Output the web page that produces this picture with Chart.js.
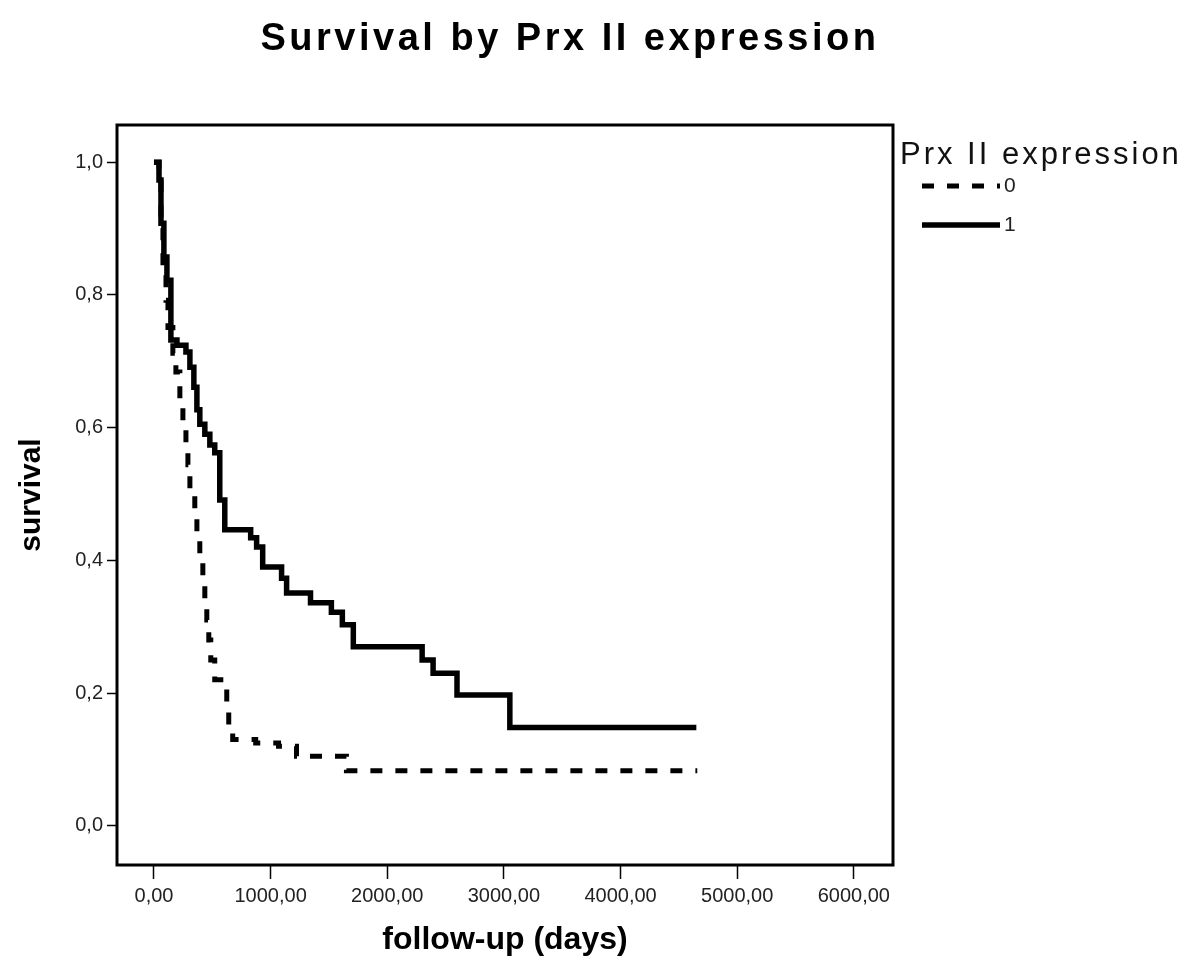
<!DOCTYPE html>
<html>
<head>
<meta charset="utf-8">
<title>Survival by Prx II expression</title>
<script src="https://cdn.jsdelivr.net/npm/chart.js@4.4.1/dist/chart.umd.min.js"></script>
<style>
  html, body { margin: 0; padding: 0; background: #fff; }
  canvas { display: block; }
</style>
</head>
<body>
<canvas id="survivalChart" width="1200" height="966"></canvas>
<script>
// Kaplan-Meier steps: follow-up in days, survival after each step
const daysExpr0 = [0, 43, 60, 77, 103, 120, 162, 188, 222, 248, 274, 291, 308, 350, 368, 393, 419, 436, 453, 470, 487, 521, 624, 641, 675, 872, 1068, 1222, 1650, 4658];
const survExpr0 = [1.0, 0.973, 0.908, 0.833, 0.792, 0.751, 0.712, 0.684, 0.642, 0.611, 0.574, 0.544, 0.506, 0.471, 0.431, 0.401, 0.370, 0.340, 0.310, 0.280, 0.250, 0.220, 0.182, 0.149, 0.130, 0.125, 0.120, 0.105, 0.083, 0.083];

const daysExpr1 = [0, 43, 60, 85, 111, 145, 197, 274, 308, 342, 368, 393, 436, 479, 521, 564, 607, 829, 880, 932, 1094, 1137, 1342, 1521, 1615, 1709, 2299, 2393, 2598, 3051, 4650];
const survExpr1 = [1.0, 0.973, 0.908, 0.857, 0.822, 0.732, 0.724, 0.714, 0.691, 0.661, 0.627, 0.605, 0.590, 0.574, 0.562, 0.491, 0.446, 0.434, 0.420, 0.390, 0.373, 0.351, 0.336, 0.322, 0.303, 0.270, 0.250, 0.230, 0.197, 0.148, 0.148];

const groupLabels = ['0', '1'];
const xTickValues = [0, 1000, 2000, 3000, 4000, 5000, 6000];
const yTickValues = [0, 0.2, 0.4, 0.6, 0.8, 1.0];

const chartTitle = 'Survival by Prx II expression';
const legendTitle = 'Prx II expression';

const toPoints = (days, surv) => days.map((d, i) => ({ x: d, y: surv[i] }));

// white page, box around the plot, title and legend (SPSS style)
const spssDecor = {
  id: 'spssDecor',
  beforeDraw(chart) {
    const ctx = chart.ctx;
    ctx.save();
    ctx.fillStyle = '#fff';
    ctx.fillRect(0, 0, chart.width, chart.height);
    ctx.restore();
  },
  afterDraw(chart) {
    const ctx = chart.ctx;
    const area = chart.chartArea;
    ctx.save();
    ctx.strokeStyle = '#000';
    ctx.lineWidth = 3;
    ctx.strokeRect(area.left, area.top, area.right - area.left, area.bottom - area.top);

    // title
    ctx.fillStyle = '#000';
    ctx.font = 'bold 38px "Liberation Sans", Arial, sans-serif';
    ctx.letterSpacing = '3.5px';
    ctx.textAlign = 'center';
    ctx.textBaseline = 'alphabetic';
    ctx.fillText(chartTitle, 570, 50);

    // legend
    ctx.textAlign = 'left';
    ctx.font = '31px "Liberation Sans", Arial, sans-serif';
    ctx.letterSpacing = '3px';
    ctx.fillStyle = '#111';
    ctx.fillText(legendTitle, 900, 164);
    ctx.letterSpacing = '0px';
    ctx.font = '21px "Liberation Sans", Arial, sans-serif';
    chart.data.datasets.forEach((ds, i) => {
      const y = 186 + i * 39;
      ctx.strokeStyle = ds.borderColor;
      ctx.lineWidth = ds.borderWidth;
      ctx.setLineDash(ds.borderDash || []);
      ctx.beginPath();
      ctx.moveTo(922, y);
      ctx.lineTo(1000, y);
      ctx.stroke();
      ctx.setLineDash([]);
      ctx.fillStyle = '#222';
      ctx.textBaseline = 'middle';
      ctx.fillText(ds.label, 1004, y);
    });
    ctx.restore();
  }
};

const tickFont = { family: '"Liberation Sans", Arial, sans-serif', size: 20 };
const axisTitleFont = { family: '"Liberation Sans", Arial, sans-serif', size: 30, weight: 'bold' };

new Chart(document.getElementById('survivalChart'), {
  type: 'line',
  data: {
    datasets: [
      {
        label: groupLabels[0],
        data: toPoints(daysExpr0, survExpr0),
        borderColor: '#000',
        borderWidth: 5,
        borderDash: [12, 13],
        borderCapStyle: 'butt',
        stepped: 'before',
        pointRadius: 0,
        fill: false
      },
      {
        label: groupLabels[1],
        data: toPoints(daysExpr1, survExpr1),
        borderColor: '#000',
        borderWidth: 5.5,
        stepped: 'before',
        pointRadius: 0,
        fill: false
      }
    ]
  },
  options: {
    responsive: false,
    animation: false,
    devicePixelRatio: 1,
    layout: { padding: { top: 125, right: 307, bottom: 0, left: 0 } },
    plugins: {
      legend: { display: false },
      title: { display: false },
      tooltip: { enabled: false }
    },
    scales: {
      x: {
        type: 'linear',
        min: -317,
        max: 6336,
        afterBuildTicks: scale => { scale.ticks = xTickValues.map(v => ({ value: v })); },
        afterFit: scale => { scale.height = 101; },
        ticks: {
          font: tickFont,
          color: '#222',
          padding: 5,
          maxRotation: 0,
          callback: v => v.toFixed(2).replace('.', ',')
        },
        grid: { drawOnChartArea: false, drawTicks: true, tickLength: 14, tickWidth: 1.5, tickColor: '#000' },
        border: { display: false },
        title: { display: true, text: 'follow-up (days)', font: { ...axisTitleFont, size: 32 }, color: '#000', padding: { top: 0, bottom: 7 } }
      },
      y: {
        min: -0.059,
        max: 1.056,
        afterBuildTicks: scale => { scale.ticks = yTickValues.map(v => ({ value: v })); },
        afterFit: scale => { scale.width = 117; },
        ticks: {
          font: tickFont,
          color: '#222',
          padding: 4,
          callback: v => v.toFixed(1).replace('.', ',')
        },
        grid: { drawOnChartArea: false, drawTicks: true, tickLength: 10, tickWidth: 1.5, tickColor: '#000' },
        border: { display: false },
        title: { display: true, text: 'survival', font: axisTitleFont, color: '#000', padding: { top: 14, bottom: 0 } }
      }
    }
  },
  plugins: [spssDecor]
});
</script>
</body>
</html>
